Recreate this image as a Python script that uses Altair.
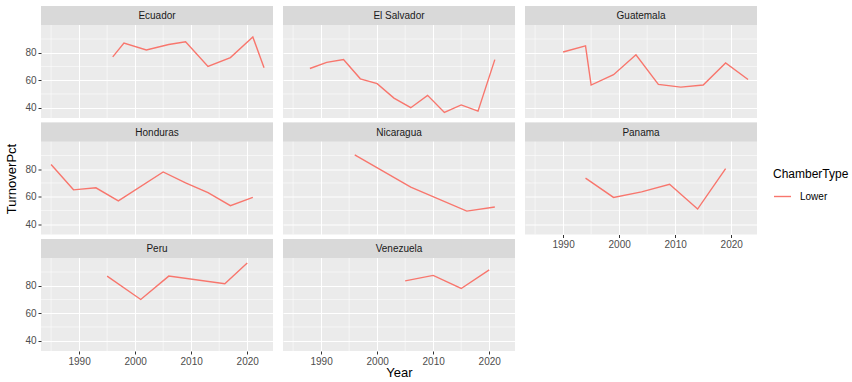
import altair as alt
import pandas as pd

# Legislative turnover (% of seats changing hands) per election, lower chamber
ecuador_years = [1996, 1998, 2002, 2006, 2009, 2013, 2017, 2021, 2023]
ecuador_pct = [77, 87, 82, 86, 88, 70, 76.5, 91.5, 69]

salvador_years = [1988, 1991, 1994, 1997, 2000, 2003, 2006, 2009, 2012, 2015, 2018, 2021]
salvador_pct = [68.5, 73, 75, 61, 57.5, 47, 40, 49, 36.5, 42, 37.5, 75]

guatemala_years = [1990, 1994, 1995, 1999, 2003, 2007, 2011, 2015, 2019, 2023]
guatemala_pct = [80.5, 85, 56.5, 64, 78.5, 57, 55, 56.5, 72.5, 60.5]

honduras_years = [1985, 1989, 1993, 1997, 2005, 2009, 2013, 2017, 2021]
honduras_pct = [83.5, 65, 66.5, 57, 78, 70, 63, 53.5, 59.5]

nicaragua_years = [1996, 2006, 2016, 2021]
nicaragua_pct = [90.5, 67, 49.5, 52.5]

panama_years = [1994, 1999, 2004, 2009, 2014, 2019]
panama_pct = [73.5, 59.5, 63.5, 69, 51, 80.5]

peru_years = [1995, 2001, 2006, 2016, 2020]
peru_pct = [87, 70, 87, 81.5, 96.5]

venezuela_years = [2005, 2010, 2015, 2020]
venezuela_pct = [83.5, 87.5, 78, 91.5]

series = {
    "Ecuador": (ecuador_years, ecuador_pct),
    "El Salvador": (salvador_years, salvador_pct),
    "Guatemala": (guatemala_years, guatemala_pct),
    "Honduras": (honduras_years, honduras_pct),
    "Nicaragua": (nicaragua_years, nicaragua_pct),
    "Panama": (panama_years, panama_pct),
    "Peru": (peru_years, peru_pct),
    "Venezuela": (venezuela_years, venezuela_pct),
}

# Axis breaks (major carry labels, minor are thin grid lines only)
major_years = [1990, 2000, 2010, 2020]
minor_years = [1985, 1995, 2005, 2015]
major_pct = [40, 60, 80]
minor_pct = [50, 70, 90]

rows = []
for country, (yrs, vals) in series.items():
    for yr, v in zip(yrs, vals):
        rows.append({"Country": country, "Year": yr, "TurnoverPct": v, "ChamberType": "Lower"})
data = pd.DataFrame(rows)

# Panel geometry: the strip sits inside the top of each panel's y range
W, H, STRIP = 232, 112, 19
X_DOMAIN = [1983.2, 2024.6]
Y_DOMAIN = [32.5, 114.0]

FONT = "Liberation Sans"
LINE_COLOR = "#F8766D"


def panel(name, left, bottom, ytitle=False, xtitle=False):
    xscale = alt.Scale(domain=X_DOMAIN, nice=False, zero=False)
    yscale = alt.Scale(domain=Y_DOMAIN, nice=False, zero=False)
    xaxis = alt.Axis(
        values=major_years, format="d", grid=True, gridColor="white", gridWidth=1.1,
        labels=bottom, ticks=bottom, domain=False, tickSize=3, labelPadding=2,
        titlePadding=0, labelFlush=False,
    )
    yaxis = alt.Axis(
        values=major_pct, grid=True, gridColor="white", gridWidth=1.1,
        labels=left, ticks=left, domain=False, tickSize=3, labelPadding=2,
        titlePadding=6,
    )

    def xenc():
        return alt.X("Year:Q", scale=xscale, axis=xaxis, title="Year" if xtitle else None)

    def yenc():
        return alt.Y("TurnoverPct:Q", scale=yscale, axis=yaxis,
                     title="TurnoverPct" if ytitle else None)

    minor_x = alt.Chart(pd.DataFrame({"Year": minor_years})).mark_rule(
        color="white", strokeWidth=0.55
    ).encode(x=xenc())
    minor_y = alt.Chart(pd.DataFrame({"TurnoverPct": minor_pct})).mark_rule(
        color="white", strokeWidth=0.55
    ).encode(y=yenc())
    line = alt.Chart(data[data["Country"] == name]).mark_line(strokeWidth=1.4).encode(
        x=xenc(),
        y=yenc(),
        color=alt.Color(
            "ChamberType:N",
            scale=alt.Scale(range=[LINE_COLOR]),
            legend=alt.Legend(
                title="ChamberType", orient="none", legendX=732, legendY=163, offset=0,
                symbolType="stroke", symbolSize=289, symbolStrokeWidth=1.4,
                titleFontSize=12, titleFontWeight="normal", titleColor="black",
                titlePadding=6, labelFontSize=10, labelColor="black", labelOffset=8,
                padding=0, titleFont=FONT, labelFont=FONT,
            ),
        ),
    )
    label_df = pd.DataFrame({"Country": [name]})
    strip = alt.Chart(label_df).mark_rect(color="#D9D9D9").encode(
        x=alt.value(0), x2=alt.value(W), y=alt.value(0), y2=alt.value(STRIP)
    )
    strip_text = alt.Chart(label_df).mark_text(
        font=FONT, fontSize=10, color="#1A1A1A", baseline="middle", align="center"
    ).encode(x=alt.value(W / 2), y=alt.value(STRIP / 2 + 0.5), text="Country:N")

    return alt.layer(minor_x, minor_y, line, strip, strip_text).properties(width=W, height=H)


ROW_GAP = 2.5

col1 = alt.vconcat(
    panel("Ecuador", left=True, bottom=False),
    panel("Honduras", left=True, bottom=False, ytitle=True),
    panel("Peru", left=True, bottom=True),
    spacing=ROW_GAP,
)
col2 = alt.vconcat(
    panel("El Salvador", left=False, bottom=False),
    panel("Nicaragua", left=False, bottom=False),
    panel("Venezuela", left=False, bottom=True, xtitle=True),
    spacing=ROW_GAP,
)
col3 = alt.vconcat(
    panel("Guatemala", left=False, bottom=False),
    panel("Panama", left=False, bottom=True),
    spacing=ROW_GAP,
)

chart = (
    alt.hconcat(col1, col2, col3, spacing=8)
    .properties(padding={"left": 5, "top": 5, "right": 0, "bottom": 0}, background="white")
    .configure(font=FONT)
    .configure_view(fill="#EBEBEB", strokeWidth=0)
    .configure_axis(
        labelFont=FONT, titleFont=FONT, labelFontSize=10, labelColor="#4D4D4D",
        tickColor="#333333", tickWidth=1, titleFontSize=13, titleFontWeight="normal",
        titleColor="black",
    )
)

chart.save("out.html", embed_options={"renderer": "svg", "actions": False})
